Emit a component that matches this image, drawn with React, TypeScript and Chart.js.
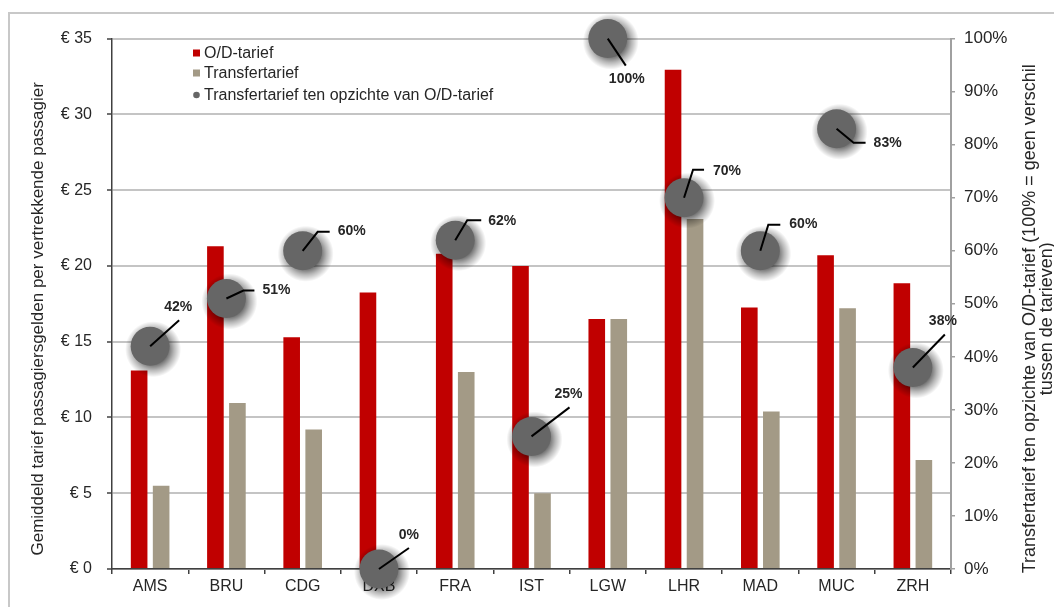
import React, { useEffect, useRef } from "react";
import { Chart, registerables } from "chart.js";

Chart.register(...registerables);

const categories = ["AMS", "BRU", "CDG", "DXB", "FRA", "IST", "LGW", "LHR", "MAD", "MUC", "ZRH"];
const odTarief = [13.1, 21.3, 15.3, 18.25, 20.8, 20.0, 16.5, 32.95, 17.25, 20.7, 18.85];
const transferTarief = [5.5, 10.95, 9.2, 0, 13.0, 5.0, 16.5, 23.1, 10.4, 17.2, 7.2];
const ratioPct = [42, 51, 60, 0, 62, 25, 100, 70, 60, 83, 38];

const seriesNames = ["O/D-tarief", "Transfertarief", "Transfertarief ten opzichte van O/D-tarief"];
const leftTitle = "Gemiddeld tarief passagiersgelden per vertrekkende passagier";
const rightTitle = ["Transfertarief ten opzichte van O/D-tarief (100% = geen verschil", "tussen de tarieven)"];

const RED = "#C00000";
const TAUPE = "#A39A86";
const DOT = "#666666";
const TEXT = "#262626";
const FONT = '"Liberation Sans", Arial, sans-serif';

// label placement relative to each point (pixel offsets): leader line elbow/end, text anchor
type Lay = { elbow: number[] | null; end: number[]; text: number[]; align: CanvasTextAlign };
const labelLayouts: Lay[] = [
  { elbow: null, end: [29, -26], text: [28, -39], align: "center" },
  { elbow: [17, -8], end: [28, -8], text: [36, -8], align: "left" },
  { elbow: [15, -19], end: [27, -19], text: [35, -20], align: "left" },
  { elbow: null, end: [30, -21], text: [30, -34], align: "center" },
  { elbow: [12, -20], end: [26, -20], text: [33, -19], align: "left" },
  { elbow: null, end: [38, -29], text: [37, -42], align: "center" },
  { elbow: null, end: [18, 27], text: [19, 41], align: "center" },
  { elbow: [9, -28], end: [20, -28], text: [29, -27], align: "left" },
  { elbow: [8, -26], end: [20, -26], text: [29, -27], align: "left" },
  { elbow: [17, 14], end: [29, 14], text: [37, 14], align: "left" },
  { elbow: null, end: [32, -33], text: [30, -46], align: "center" },
];

const shadowPlugin = {
  id: "dotShadow",
  beforeDatasetDraw(chart: any, args: any) {
    if (args.index !== 2) return;
    const ctx = chart.ctx;
    const meta = chart.getDatasetMeta(2);
    ctx.save();
    meta.data.forEach((pt: any) => {
      const cx = pt.x + 3;
      const cy = pt.y + 3;
      const g = ctx.createRadialGradient(cx, cy, 0, cx, cy, 28);
      g.addColorStop(0, "rgba(0,0,0,0.6)");
      g.addColorStop(0.55, "rgba(0,0,0,0.55)");
      g.addColorStop(0.75, "rgba(0,0,0,0.28)");
      g.addColorStop(1, "rgba(0,0,0,0)");
      ctx.fillStyle = g;
      ctx.beginPath();
      ctx.arc(cx, cy, 28, 0, Math.PI * 2);
      ctx.fill();
    });
    ctx.restore();
  },
};

const labelPlugin = {
  id: "leaderLabels",
  afterDatasetsDraw(chart: any) {
    const ctx = chart.ctx;
    const meta = chart.getDatasetMeta(2);
    ctx.save();
    ctx.strokeStyle = "#000";
    ctx.lineWidth = 2;
    ctx.fillStyle = TEXT;
    ctx.font = "bold 14px " + FONT;
    ctx.textBaseline = "middle";
    meta.data.forEach((pt: any, i: number) => {
      const L = labelLayouts[i];
      const x = pt.x, y = pt.y;
      ctx.beginPath();
      ctx.moveTo(x, y);
      if (L.elbow) ctx.lineTo(x + L.elbow[0], y + L.elbow[1]);
      ctx.lineTo(x + L.end[0], y + L.end[1]);
      ctx.stroke();
      ctx.textAlign = L.align;
      ctx.fillText(ratioPct[i] + "%", x + L.text[0], y + L.text[1]);
    });
    ctx.restore();
  },
};

const decorPlugin = {
  id: "decor",
  afterDraw(chart: any) {
    const ctx = chart.ctx;
    const area = chart.chartArea;
    ctx.save();
    // legend
    ctx.font = "16px " + FONT;
    ctx.textAlign = "left";
    ctx.textBaseline = "middle";
    const lx = 183;
    const ly = [39, 59, 81];
    ctx.fillStyle = RED;
    ctx.fillRect(lx, ly[0] - 3.5, 7, 7);
    ctx.fillStyle = TAUPE;
    ctx.fillRect(lx, ly[1] - 3.5, 7, 7);
    ctx.fillStyle = DOT;
    ctx.beginPath();
    ctx.arc(lx + 3.5, ly[2], 3.3, 0, Math.PI * 2);
    ctx.fill();
    ctx.fillStyle = TEXT;
    seriesNames.forEach((n, i) => ctx.fillText(n, lx + 11, ly[i] + 1));
    // axis titles
    const cy = (area.top + area.bottom) / 2 + 15;
    ctx.font = "17px " + FONT;
    ctx.textAlign = "center";
    ctx.save();
    ctx.translate(28, cy);
    ctx.rotate(-Math.PI / 2);
    ctx.fillText(leftTitle, 0, 0);
    ctx.restore();
    ctx.font = "18px " + FONT;
    ctx.save();
    ctx.translate(1020, cy);
    ctx.rotate(-Math.PI / 2);
    ctx.fillText(rightTitle[0], 0, 0);
    ctx.fillText(rightTitle[1], 0, 17);
    ctx.restore();
    ctx.restore();
  },
};

export default function App() {
  const ref = useRef<HTMLCanvasElement | null>(null);
  useEffect(() => {
    if (!ref.current) return;
    Chart.defaults.font.family = FONT;
    const chart = new Chart(ref.current, {
      type: "bar",
      data: {
        labels: categories,
        datasets: [
          {
            type: "bar",
            label: seriesNames[0],
            data: odTarief,
            backgroundColor: RED,
            yAxisID: "y",
            order: 1,
            categoryPercentage: 0.577,
            barPercentage: 0.755,
          },
          {
            type: "bar",
            label: seriesNames[1],
            data: transferTarief,
            backgroundColor: TAUPE,
            yAxisID: "y",
            order: 1,
            categoryPercentage: 0.577,
            barPercentage: 0.755,
          },
          {
            type: "line",
            label: seriesNames[2],
            data: ratioPct,
            yAxisID: "y1",
            showLine: false,
            order: 0,
            clip: false,
            pointRadius: 19.5,
            pointHoverRadius: 19.5,
            pointBackgroundColor: DOT,
            pointBorderWidth: 0,
            pointBorderColor: DOT,
          } as any,
        ],
      },
      options: {
        responsive: false,
        animation: false,
        events: [],
        layout: { padding: { top: 22, left: 0, right: 0, bottom: 0 } },
        plugins: { legend: { display: false }, tooltip: { enabled: false } },
        scales: {
          x: {
            offset: true,
            grid: {
              display: true,
              drawOnChartArea: false,
              drawTicks: true,
              tickLength: 5,
              offset: true,
              color: "#404040",
              tickColor: "#404040",
              lineWidth: 1.5,
            },
            border: { display: true, color: "#404040", width: 1.5 },
            ticks: { color: TEXT, font: { size: 16 }, padding: 3, maxRotation: 0 },
            afterFit: (s: any) => {
              s.height = 38;
            },
          },
          y: {
            position: "left",
            min: 0,
            max: 35,
            ticks: {
              stepSize: 5,
              color: TEXT,
              font: { size: 16 },
              padding: 15,
              callback: (v: any) => "€ " + v,
            },
            grid: {
              color: "#C4C4C4",
              lineWidth: 2,
              tickLength: 5,
              tickColor: "#404040",
              tickWidth: 1.5,
            },
            border: { display: true, color: "#404040", width: 1.5 },
            afterFit: (s: any) => {
              s.width = 102;
            },
          },
          y1: {
            position: "right",
            min: 0,
            max: 100,
            ticks: {
              stepSize: 10,
              color: TEXT,
              font: { size: 17 },
              padding: 9,
              callback: (v: any) => v + "%",
            },
            grid: {
              drawOnChartArea: false,
              tickLength: 4,
              color: "#A0A0A0",
              tickColor: "#A0A0A0",
              lineWidth: 1.5,
            },
            border: { display: true, color: "#A0A0A0", width: 2 },
            afterFit: (s: any) => {
              s.width = 103;
            },
          },
        },
      },
      plugins: [shadowPlugin, labelPlugin, decorPlugin],
    });
    return () => chart.destroy();
  }, []);

  return (
    <div
      style={{
        position: "absolute",
        left: 8,
        top: 12,
        width: 1046,
        height: 595,
        boxSizing: "border-box",
        borderLeft: "2px solid #C8C8C8",
        borderTop: "2px solid #C8C8C8",
        background: "#fff",
      }}
    >
      <canvas ref={ref} width={1044} height={593} style={{ display: "block", width: 1044, height: 593 }} />
    </div>
  );
}
